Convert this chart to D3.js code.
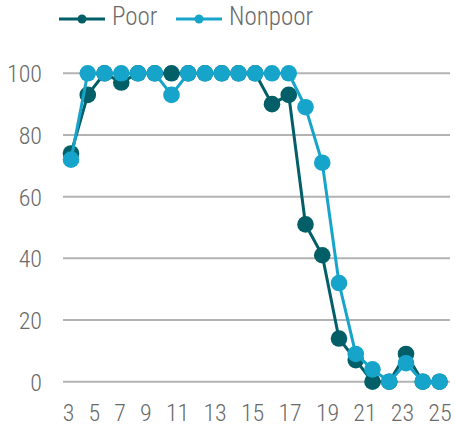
<!DOCTYPE html>
<html>
<head>
<meta charset="utf-8">
<script src="https://cdn.jsdelivr.net/npm/d3@7"></script>
<style>
  body { margin: 0; background: #fff; }
  text { font-family: "Roboto Condensed", "Liberation Sans Narrow", "DejaVu Sans Condensed", sans-serif; font-weight: 300; fill: #6a6a6a; }
</style>
</head>
<body>
<svg id="chart"></svg>
<script>
const AGES = [3, 4, 5, 6, 7, 8, 9, 10, 11, 12, 13, 14, 15, 16, 17, 18, 19, 20, 21, 22, 23, 24, 25];
const POOR = [74, 93, 100, 97, 100, 100, 100, 100, 100, 100, 100, 100, 90, 93, 51, 41, 14, 7, 0, 0, 9, 0, 0];
const NONPOOR = [72, 100, 100, 100, 100, 100, 93, 100, 100, 100, 100, 100, 100, 100, 89, 71, 32, 9, 4, 0, 6, 0, 0];
const X_LABELS = [3, 5, 7, 9, 11, 13, 15, 17, 19, 21, 23, 25];
const Y_TICKS = [0, 20, 40, 60, 80, 100];

const WIDTH = 455;
const HEIGHT = 426;
const COLORS = { poor: '#035f67', nonpoor: '#17a4cb' };

const svg = d3.select('#chart')
              .attr('width', WIDTH)
              .attr('height', HEIGHT);

const xScale = d3.scalePoint().domain(AGES).range([71, 439.5]);
const yScale = d3.scaleLinear().domain([0, 100]).range([381.7, 73.3]);

// gridlines
svg.append('g')
   .selectAll('line')
   .data(Y_TICKS)
   .enter()
   .append('line')
   .attr('x1', 63)
   .attr('x2', 450)
   .attr('y1', d => yScale(d))
   .attr('y2', d => yScale(d))
   .attr('stroke', '#b3b3b3')
   .attr('stroke-width', 2);

// y axis labels
const yAxis = svg.append('g')
   .attr('transform', 'translate(42, 0)')
   .call(d3.axisLeft(yScale).tickValues(Y_TICKS).tickSize(0).tickPadding(0));
yAxis.select('.domain').remove();
yAxis.selectAll('text')
     .attr('font-size', 24)
     .attr('dy', '0.35em')
     .attr('font-family', null)
     .style('fill', '#6a6a6a');

// x axis labels, spread with equal gaps like the original
const xAxis = svg.append('g')
   .attr('transform', 'translate(0, 421)')
   .call(d3.axisBottom(xScale).tickValues(X_LABELS).tickSize(0).tickPadding(0));
xAxis.select('.domain').remove();
const xTexts = xAxis.selectAll('text')
     .attr('font-size', 24)
     .attr('dy', 0)
     .style('fill', '#6a6a6a');

const widths = xTexts.nodes().map(n => n.getComputedTextLength());
const left = xScale(X_LABELS[0]) - widths[0] / 2 - 3;
const right = xScale(X_LABELS[X_LABELS.length - 1]) + widths[widths.length - 1] / 2;
const gap = (right - left - d3.sum(widths)) / (X_LABELS.length - 1);
let cursor = left;
xTexts.each(function(d, i) {
  const center = cursor + widths[i] / 2;
  d3.select(this).attr('x', center - xScale(d));
  cursor += widths[i] + gap;
});

const line = d3.line()
  .x((d, i) => xScale(AGES[i]))
  .y(d => yScale(d));

const SERIES = [
  { key: 'poor', values: POOR },
  { key: 'nonpoor', values: NONPOOR },
];

SERIES.forEach(s => {
  const g = svg.append('g');
  g.append('path')
   .datum(s.values)
   .attr('d', line)
   .attr('fill', 'none')
   .attr('stroke', COLORS[s.key])
   .attr('stroke-width', 3);
  g.selectAll('circle')
   .data(s.values)
   .enter()
   .append('circle')
   .attr('cx', (d, i) => xScale(AGES[i]))
   .attr('cy', d => yScale(d))
   .attr('r', 8.3)
   .attr('fill', COLORS[s.key]);
});

// legend
const LEGEND = [
  { key: 'poor', label: 'Poor', x: 59 },
  { key: 'nonpoor', label: 'Nonpoor', x: 176 },
];
const legend = svg.append('g').attr('transform', 'translate(0, 19)');
LEGEND.forEach(l => {
  legend.append('line')
        .attr('x1', l.x).attr('x2', l.x + 46)
        .attr('y1', 0).attr('y2', 0)
        .attr('stroke', COLORS[l.key])
        .attr('stroke-width', 3);
  legend.append('circle')
        .attr('cx', l.x + 23).attr('cy', 0)
        .attr('r', 4.5)
        .attr('fill', COLORS[l.key]);
  legend.append('text')
        .attr('x', l.x + 53)
        .attr('y', 6)
        .attr('font-size', 25)
        .text(l.label);
});
</script>
</body>
</html>
